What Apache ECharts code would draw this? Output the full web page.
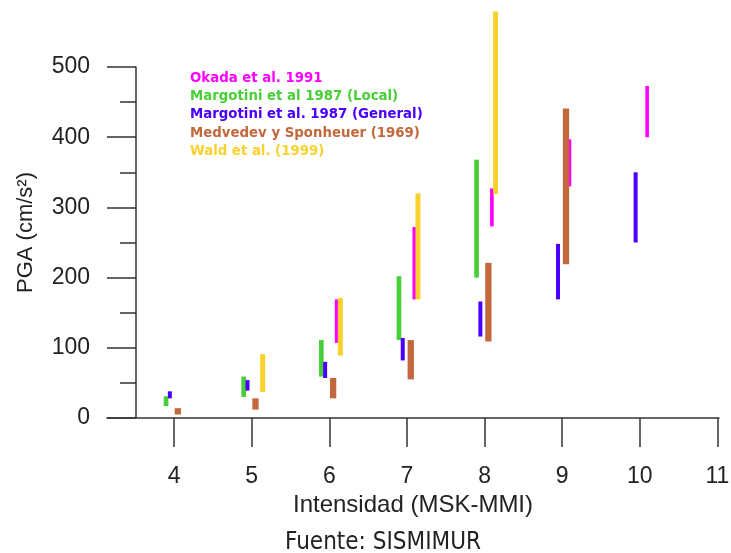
<!DOCTYPE html>
<html>
<head>
<meta charset="utf-8">
<script src="https://cdn.jsdelivr.net/npm/echarts@6/dist/echarts.min.js"></script>
<style>
  html, body { margin: 0; padding: 0; background: #fff; }
  #chart { width: 731px; height: 553px; }
</style>
</head>
<body>
<div id="chart"></div>
<script>
// ticks del eje de intensidad
const xTicks = [4, 5, 6, 7, 8, 9, 10, 11];

// rangos de PGA (cm/s2) por intensidad
const okadaX = [6, 7, 8, 9, 10];
const okadaLow = [107, 169, 273, 330, 400];
const okadaHigh = [169, 272, 327, 397, 473];

const margLocalX = [4, 5, 6, 7, 8];
const margLocalLow = [17, 30, 59, 111, 200];
const margLocalHigh = [31, 59, 111, 202, 368];

const margGenX = [4, 5, 6, 7, 8, 9, 10];
const margGenLow = [28, 39, 57, 82, 116, 169, 250];
const margGenHigh = [38, 54, 80, 114, 166, 248, 350];

const medvX = [4, 5, 6, 7, 8, 9];
const medvLow = [5, 12, 28, 55, 109, 219];
const medvHigh = [14, 28, 57, 111, 221, 441];

const waldX = [5, 6, 7, 8];
const waldLow = [37, 89, 169, 319];
const waldHigh = [91, 171, 320, 579];

const sources = [
  { name: 'Okada et al. 1991', x: okadaX, low: okadaLow, high: okadaHigh, color: '#ff00ff', off: 7.3, w: 3.6 },
  { name: 'Margotini et al 1987 (Local)', x: margLocalX, low: margLocalLow, high: margLocalHigh, color: '#48cf38', off: -8, w: 4.7 },
  { name: 'Margotini et al. 1987 (General)', x: margGenX, low: margGenLow, high: margGenHigh, color: '#4a00ff', off: -4.2, w: 4 },
  { name: 'Medvedev y Sponheuer (1969)', x: medvX, low: medvLow, high: medvHigh, color: '#c2683c', off: 3.8, w: 6.3 },
  { name: 'Wald et al. (1999)', x: waldX, low: waldLow, high: waldHigh, color: '#f9d12c', off: 11, w: 5 }
];

const axisColor = '#333';
const textFont = 'Liberation Sans';

function makeRender(off, w) {
  return function (params, api) {
    const pLow = api.coord([api.value(0), api.value(1)]);
    const pHigh = api.coord([api.value(0), api.value(2)]);
    return {
      type: 'rect',
      shape: { x: pLow[0] + off - w / 2, y: pHigh[1], width: w, height: pLow[1] - pHigh[1] },
      style: { fill: api.visual('color') }
    };
  };
}

const chart = echarts.init(document.getElementById('chart'));

const option = {
  animation: false,
  backgroundColor: '#fff',
  grid: { left: 107, right: 12, top: 67, bottom: 135, outerBoundsMode: 'none' },
  legend: {
    orient: 'vertical',
    left: 185,
    top: 69,
    padding: 0,
    icon: 'none',
    itemWidth: 0,
    itemHeight: 0,
    itemGap: 0,
    selectedMode: false,
    textStyle: { fontFamily: 'DejaVu Sans Condensed', fontWeight: 'bold', fontSize: 14.8, lineHeight: 18.2 },
    data: sources.map(s => ({ name: s.name, textStyle: { color: s.color } }))
  },
  xAxis: {
    type: 'value',
    min: 3.136,
    max: 11.02,
    name: 'Intensidad (MSK-MMI)',
    nameLocation: 'middle',
    nameGap: 74,
    nameTextStyle: { fontFamily: textFont, fontSize: 24, color: '#222' },
    axisLine: { show: true, onZero: false, lineStyle: { color: axisColor, width: 1.5 } },
    axisTick: { show: true, length: 29, customValues: xTicks, lineStyle: { color: axisColor, width: 1.5 } },
    axisLabel: { customValues: xTicks, margin: 47, fontFamily: textFont, fontSize: 23, color: '#222' },
    splitLine: { show: false }
  },
  yAxis: {
    type: 'value',
    min: 0,
    max: 500,
    interval: 100,
    offset: -29,
    name: 'PGA (cm/s²)',
    nameLocation: 'middle',
    nameRotate: 90,
    nameGap: 99,
    nameTextStyle: { fontFamily: textFont, fontSize: 22, color: '#222', padding: [0, 0, 0, 20] },
    axisLine: { show: true, onZero: false, lineStyle: { color: axisColor, width: 1.5 } },
    axisTick: { show: true, length: 29, lineStyle: { color: axisColor, width: 1.5 } },
    minorTick: { show: true, splitNumber: 2, length: 16, lineStyle: { color: axisColor, width: 1.5 } },
    axisLabel: { margin: 46, fontFamily: textFont, fontSize: 23, color: '#222' },
    splitLine: { show: false },
    minorSplitLine: { show: false }
  },
  graphic: [{
    type: 'text',
    x: 383,
    y: 531,
    style: {
      text: 'Fuente: SISMIMUR',
      font: '24px "DejaVu Sans Condensed"',
      fill: '#222',
      align: 'center',
      verticalAlign: 'top'
    }
  }],
  series: sources.map(s => ({
    name: s.name,
    type: 'custom',
    clip: false,
    itemStyle: { color: s.color },
    encode: { x: 0, y: [1, 2] },
    renderItem: makeRender(s.off, s.w),
    data: s.x.map((v, i) => [v, s.low[i], s.high[i]])
  }))
};

chart.setOption(option);
</script>
</body>
</html>
